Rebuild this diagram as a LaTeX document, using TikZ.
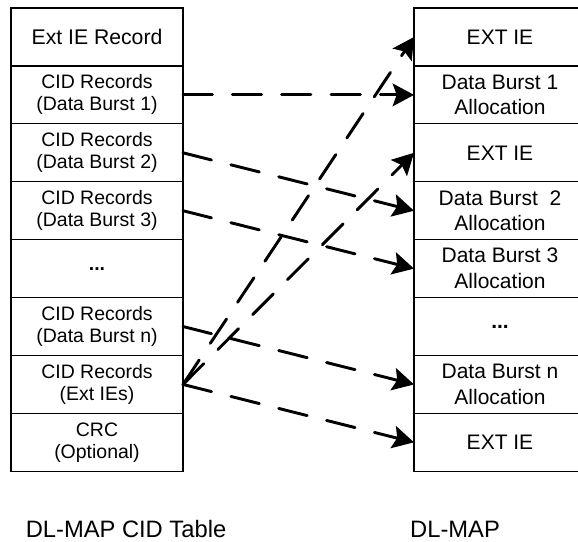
\documentclass[tikz,border=0pt]{standalone}
\usepackage{fontspec}
\setmainfont{Liberation Sans}
\usepackage[]{tikz}
\usetikzlibrary{positioning,arrows.meta}
\tikzset{cell/.style={draw,line width=0.9pt,outer sep=0pt,inner sep=0pt,minimum width=129pt,minimum height=43.43pt,align=center}}
\tikzset{lcell/.style={cell,font=\fontsize{14.6}{16.5}\selectfont}}
\tikzset{rcell/.style={cell,font=\fontsize{15.75}{19.3}\selectfont}}
\tikzset{link/.style={-{Stealth[length=16pt,width=17pt,inset=3pt]},line width=2.2pt,dash pattern=on 22pt off 15pt,line cap=round}}
\tikzset{caption/.style={font=\fontsize{17.8}{20}\selectfont,anchor=base,inner sep=0pt}}

\begin{document}
\begin{tikzpicture}[x=0.75pt,y=-0.75pt] % 按像素取坐标
            \useasboundingbox (0,0) rectangle (578,542);
            % 左边: CID 表
            \node[lcell,font=\fontsize{15.9}{18}\selectfont] (l1) at (97,37) {Ext IE Record};
            \node[lcell,below=0pt of l1] (l2) {CID Records\\(Data Burst 1)};
            \node[lcell,below=0pt of l2] (l3) {CID Records\\(Data Burst 2)};
            \node[lcell,below=0pt of l3] (l4) {CID Records\\(Data Burst 3)};
            \node[lcell,below=0pt of l4] (l5) {\textbf{...}};
            \node[lcell,below=0pt of l5] (l6) {CID Records\\(Data Burst n)};
            \node[lcell,below=0pt of l6] (l7) {CID Records\\(Ext IEs)};
            \node[lcell,below=0pt of l7] (l8) {CRC\\(Optional)};
            % 右边: DL-MAP
            \node[rcell] (r1) at (500,37) {EXT IE};
            \node[rcell,below=0pt of r1] (r2) {Data Burst 1\\Allocation};
            \node[rcell,below=0pt of r2] (r3) {EXT IE};
            \node[rcell,below=0pt of r3] (r4) {Data Burst\ \ 2\\Allocation};
            \node[rcell,below=0pt of r4] (r5) {Data Burst 3\\Allocation};
            \node[rcell,below=0pt of r5] (r6) {\textbf{...}};
            \node[rcell,below=0pt of r6] (r7) {Data Burst n\\Allocation};
            \node[rcell,below=0pt of r7] (r8) {EXT IE};
            % 标题
            \node[caption] (t1) at (126,537) {DL-MAP CID Table};
            \node[caption] (t2) at (455,537) {DL-MAP};
            % 虚线箭头
            \draw[link] (l2.east) -- (r2.west);
            \draw[link] (l3.east) -- (r4.west);
            \draw[link] (l4.east) -- (r5.west);
            \draw[link] (l6.east) -- (r7.west);
            \draw[link] (l7.east) -- (r8.west);
            \draw[link] (l7.east) -- (r1.west);
            \draw[link] (l7.east) -- (r3.west);
        \end{tikzpicture}
\end{document}
